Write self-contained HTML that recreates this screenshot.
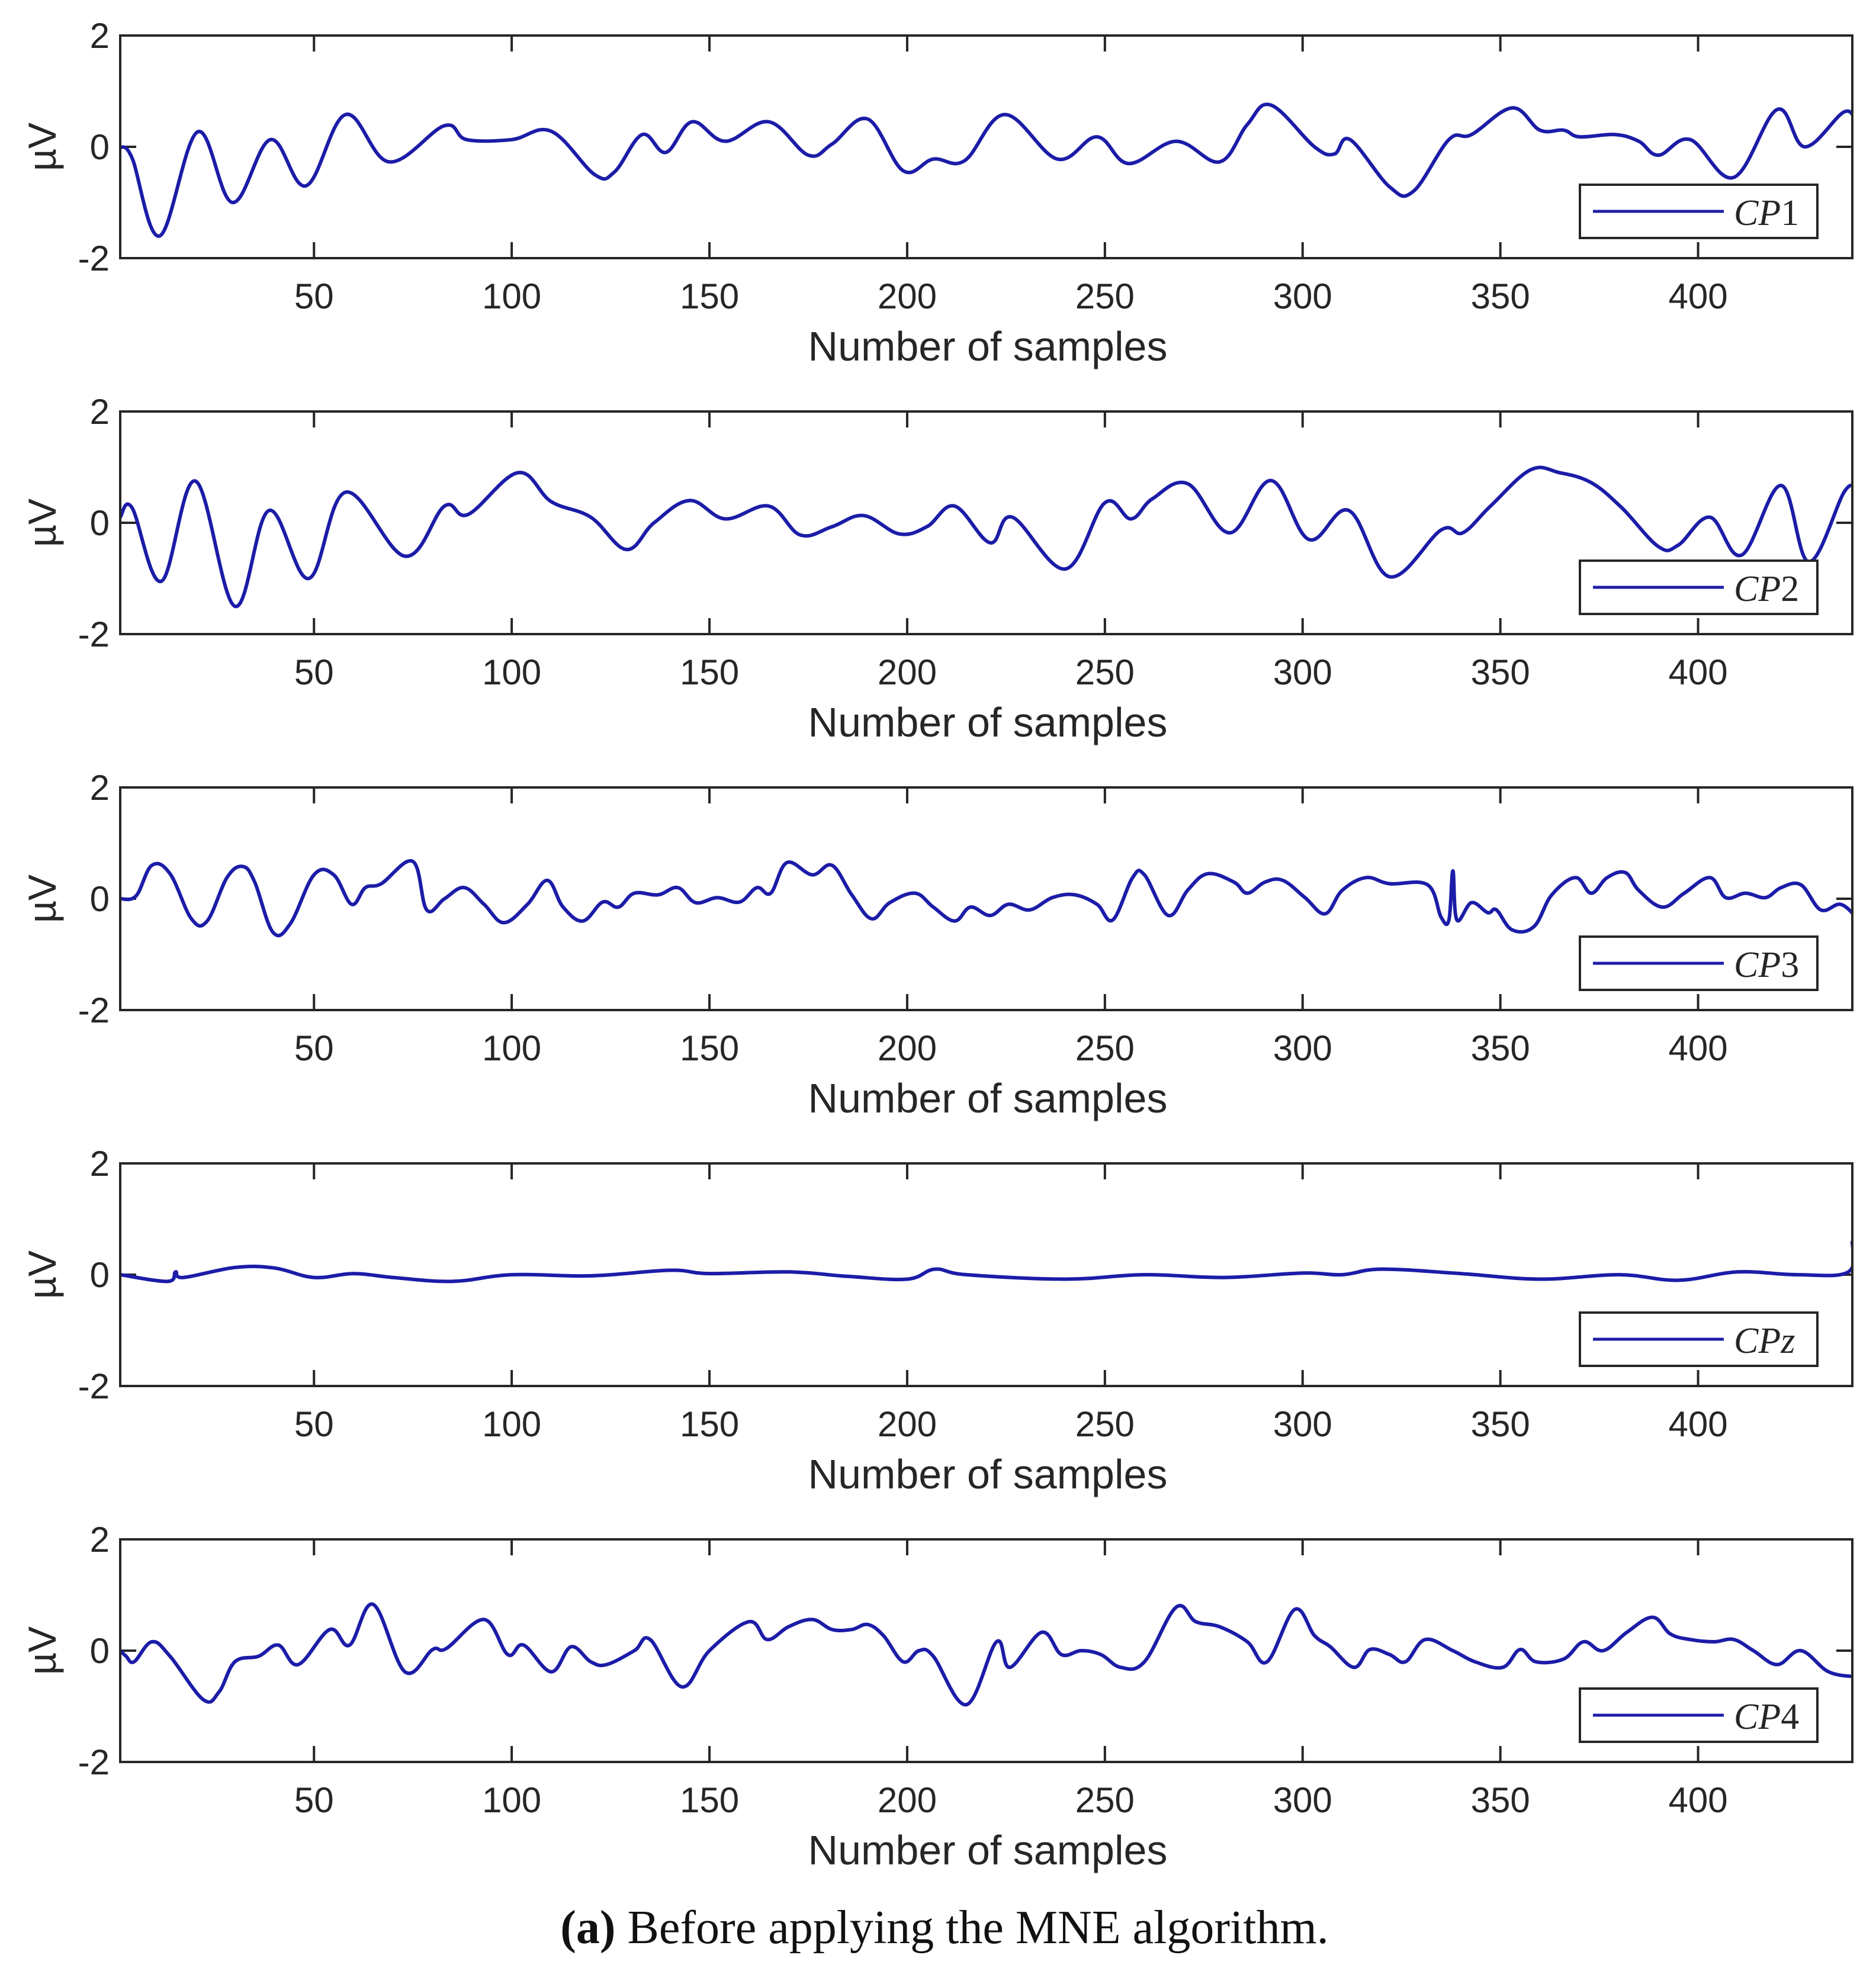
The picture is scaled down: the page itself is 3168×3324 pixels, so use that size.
<!DOCTYPE html>
<html><head><meta charset="utf-8"><style>
html,body{margin:0;padding:0;background:#fff}
svg{display:block}
</style></head><body>
<svg id="fig" width="3168" height="3324" viewBox="0 0 3168 3324" xmlns="http://www.w3.org/2000/svg">
<text x="1595" y="3282" text-anchor="middle" font-family="Liberation Serif, serif" font-size="80" fill="#111"><tspan font-weight="bold">(a)</tspan> Before applying the MNE algorithm.</text>
</svg>
<script>
const channels = ["CP1","CP2","CP3","CPz","CP4"];
const xTicks = [50,100,150,200,250,300,350,400];
const yTicks = [-2,0,2];
const cp1X = [1,4,11,20.6,29.4,39,48,58,69,83,88.6,100,110,121,126,133,139,145.6,154,165,175,181,190,199,206.6,214.5,224.7,238,248,256,268,279,286,292,303,308,312,322,328,337,342.7,353,360,366,370,379,385,390,398,409,420,427,437,440];
const cp1Y = [0,-0.2,-1.6,0.27,-1.0,0.13,-0.7,0.58,-0.27,0.38,0.13,0.13,0.28,-0.5,-0.45,0.22,-0.1,0.45,0.1,0.45,-0.15,0.05,0.5,-0.43,-0.22,-0.25,0.58,-0.22,0.18,-0.3,0.1,-0.27,0.4,0.75,0,-0.13,0.13,-0.72,-0.8,0.13,0.22,0.7,0.3,0.3,0.18,0.22,0.1,-0.15,0.13,-0.55,0.67,0,0.63,0.4];
const cp2X = [1,4,11.4,20,30,38.6,48.7,58,73,83,89,101.6,110,120,129,136,145,154,165,173,181,189,198,205,212,221,226.6,240,250,256.6,262,271,281.6,292,301.6,311.7,322,335,340.5,347.5,357.6,365,373,380.7,390,395,403,411,421,428,437,440];
const cp2Y = [0.1,0.27,-1.05,0.75,-1.5,0.22,-1.0,0.55,-0.6,0.3,0.15,0.9,0.38,0.1,-0.48,0,0.4,0.07,0.3,-0.22,-0.07,0.13,-0.2,-0.07,0.3,-0.36,0.1,-0.83,0.36,0.07,0.43,0.7,-0.18,0.76,-0.3,0.22,-0.97,-0.13,-0.18,0.3,0.95,0.9,0.72,0.27,-0.43,-0.4,0.1,-0.58,0.67,-0.7,0.56,0.6];
const cp3X = [1,5,9,13.6,19,23,28,32,35,39.6,44,50,55,59.5,63,67,75,78.5,83,88,93,98,104,109,113,118,123,127,131,137,142,146.5,152,157.6,162,165.5,169.6,176,181,186,191,195.6,202,206.6,212,216,221,225.6,231,236.7,242.4,248,252,257,260,266,271,276,282.6,286,290.5,295,300.6,305.7,310,316,322,331.6,335,337,338,339,342.7,346.8,349,353,358.5,363,369,373,377,381.6,385,391,396.5,403,407,412,417,421,426,431,436,440];
const cp3Y = [0,0.05,0.6,0.45,-0.36,-0.4,0.38,0.58,0.3,-0.6,-0.45,0.43,0.43,-0.1,0.2,0.27,0.67,-0.2,0,0.2,-0.1,-0.43,-0.1,0.33,-0.15,-0.4,-0.06,-0.15,0.1,0.07,0.2,-0.07,0.02,-0.06,0.2,0.1,0.65,0.43,0.6,0.07,-0.36,-0.07,0.1,-0.15,-0.4,-0.15,-0.3,-0.1,-0.2,0.02,0.07,-0.1,-0.38,0.38,0.43,-0.3,0.16,0.45,0.3,0.1,0.3,0.33,0.02,-0.27,0.15,0.38,0.27,0.25,-0.33,-0.38,0.5,-0.38,-0.07,-0.25,-0.2,-0.56,-0.5,0.07,0.38,0.1,0.38,0.47,0.15,-0.15,0.1,0.38,0.02,0.1,0.02,0.2,0.25,-0.2,-0.1,-0.33];
const cpzX = [1,13,15,17,30,40,50,60,70,85,100,120,140,150,170,185,200,207,215,240,260,280,300,310,320,340,360,380,395,410,425,438,439];
const cpzY = [0,-0.12,0.05,-0.05,0.13,0.12,-0.05,0.02,-0.05,-0.12,0,-0.02,0.08,0.02,0.05,-0.03,-0.08,0.1,0,-0.08,0,-0.05,0.03,0,0.1,0.02,-0.08,0,-0.1,0.05,0,0.05,0.6];
const cp4X = [1,2.5,4.5,9,13.6,22,26,30,36,41,46,54,59,65,73,80,83.5,93,99,103,110,115,120,124,131,135,143,150,160,164.6,170,176,181,186,190,194,199,203,206.6,215,222.6,226,234,239,244,249,254,260,268,273,279,286,291,298,303,307,313,317,322,326,331,338,343.6,350.6,355,359,366,371,376,382,388.5,393,398,404,409,414,420,426,433,440];
const cp4Y = [0,-0.1,-0.2,0.16,-0.1,-0.88,-0.74,-0.2,-0.1,0.1,-0.25,0.38,0.1,0.83,-0.38,0.02,0.04,0.56,-0.07,0.1,-0.38,0.07,-0.2,-0.25,0,0.2,-0.65,0,0.52,0.2,0.43,0.56,0.38,0.38,0.47,0.27,-0.2,0,-0.1,-0.97,0.16,-0.3,0.33,-0.07,0,-0.07,-0.3,-0.2,0.78,0.52,0.43,0.16,-0.2,0.74,0.27,0.07,-0.3,0.02,-0.07,-0.2,0.2,0,-0.2,-0.3,0.02,-0.2,-0.15,0.16,0,0.33,0.6,0.3,0.2,0.16,0.2,0,-0.25,0,-0.38,-0.47];
const seriesX = [cp1X,cp2X,cp3X,cpzX,cp4X];
const seriesY = [cp1Y,cp2Y,cp3Y,cpzY,cp4Y];

const NS = "http://www.w3.org/2000/svg";
const svg = document.getElementById("fig");
const L = 203, R = 3128, H = 376, X0 = 1, X1 = 439;
function mk(tag, attrs, parent){const e=document.createElementNS(NS,tag);for(const k in attrs)e.setAttribute(k,attrs[k]);(parent||svg).appendChild(e);return e;}
function sx(v){return L + (v - X0) / (X1 - X0) * (R - L);}

channels.forEach((ch, i) => {
  const top = 60 + i * 635, bot = top + H;
  const sy = v => top + (2 - v) / 4 * H;
  const g = mk("g", {});
  
  
  xTicks.forEach(t => {
    const x = sx(t);
    const a = mk("line", {x1:x, x2:x, y1:top, y2:top+27, stroke:"#262626","stroke-width":4}, g);
    
    
    const b = mk("line", {x1:x, x2:x, y1:bot, y2:bot-27, stroke:"#262626","stroke-width":4}, g);
    
    
    const tl = mk("text", {x:x, y:bot+85, "text-anchor":"middle","font-family":"Liberation Sans, sans-serif","font-size":60, fill:"#262626"}, g);
    tl.textContent = t;
    
    
  });
  yTicks.forEach(t => {
    const y = sy(t);
    const a = mk("line", {x1:L, x2:L+27, y1:y, y2:y, stroke:"#262626","stroke-width":4}, g);
    
    
    const b = mk("line", {x1:R, x2:R-27, y1:y, y2:y, stroke:"#262626","stroke-width":4}, g);
    
    
    const tl = mk("text", {x:185, y:y+21, "text-anchor":"end","font-family":"Liberation Sans, sans-serif","font-size":60, fill:"#262626"}, g);
    tl.textContent = t;
    
    
  });
  const xs = seriesX[i], ys = seriesY[i];
  const pts = xs.map((x, k) => [sx(x), sy(ys[k])]);
  let d = "M" + pts[0][0].toFixed(1) + "," + pts[0][1].toFixed(1);
  const tk = 0.18;
  for (let k = 0; k < pts.length - 1; k++) {
    const p0 = pts[Math.max(0,k-1)], p1 = pts[k], p2 = pts[k+1], p3 = pts[Math.min(pts.length-1,k+2)];
    const c1 = [p1[0] + (p2[0]-p0[0])*tk, p1[1] + (p2[1]-p0[1])*tk];
    const c2 = [p2[0] - (p3[0]-p1[0])*tk, p2[1] - (p3[1]-p1[1])*tk];
    d += " C" + c1[0].toFixed(1)+","+c1[1].toFixed(1)+" "+c2[0].toFixed(1)+","+c2[1].toFixed(1)+" "+p2[0].toFixed(1)+","+p2[1].toFixed(1);
  }
  const cp = mk("clipPath", {id:"clip"+i}, g);
  mk("rect", {x:L, y:top, width:R-L, height:H}, cp);
  const line = mk("path", {d:d, fill:"none", stroke:"#1c1ca8","stroke-width":6,"stroke-linejoin":"round","clip-path":"url(#clip"+i+")"}, g);
  
  
  const box = mk("rect", {x:L, y:top, width:R-L, height:H, fill:"none", stroke:"#262626","stroke-width":4}, g);
  
  
  const yl = mk("text", {x:0, y:0, transform:"translate(94,"+(top+H/2)+") rotate(-90)", "text-anchor":"middle","font-family":"Liberation Sans, sans-serif","font-size":66, fill:"#262626"}, g);
  yl.textContent = "µV";
  
  
  const xl = mk("text", {x:1668, y:bot+173, "text-anchor":"middle","font-family":"Liberation Sans, sans-serif","font-size":70, fill:"#262626"}, g);
  xl.textContent = "Number of samples";
  
  
  const lg = mk("g", {}, g);
  
  
  mk("rect", {x:2668, y:top+252, width:401, height:90, fill:"#fff", stroke:"#262626","stroke-width":4}, lg);
  const ll = mk("line", {x1:2690, x2:2911, y1:top+297, y2:top+297, stroke:"#1c1ca8","stroke-width":5}, lg);
  
  
  const lt = mk("text", {x:2928, y:top+320, "font-family":"Liberation Serif, serif","font-size":62, fill:"#262626"}, lg);
  const a1 = mk("tspan", {"font-style":"italic"}, lt); a1.textContent = "CP";
  const a2 = mk("tspan", {"font-style": ch==="CPz" ? "italic" : "normal"}, lt); a2.textContent = ch.slice(2);
  
  
});
</script>
</body></html>
